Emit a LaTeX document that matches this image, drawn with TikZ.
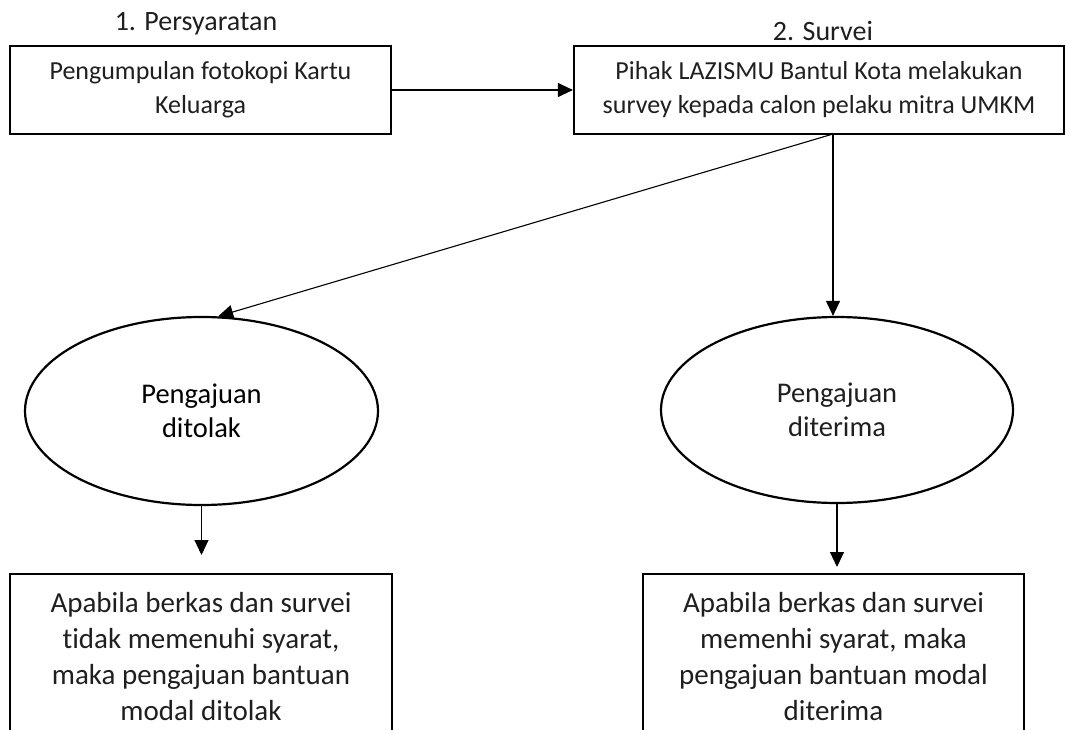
\documentclass[tikz,border=0pt]{standalone}
\usepackage{fontspec}
\setmainfont{Carlito}[Ligatures=NoCommon]
\usetikzlibrary{shapes.geometric,arrows.meta,positioning}

\begin{document}
\begin{tikzpicture}[x=1pt,y=-1pt,
  kotak/.style={draw,line width=2.2pt,align=center,inner sep=0pt,text=black!88},
  elips/.style={draw,ellipse,line width=2.2pt,align=center,inner sep=0pt,text=black!88},
  panah/.style={-{Triangle[length=15pt,width=14pt]},line width=1.1pt}]
\path[use as bounding box,clip] (0,0) rectangle (1066,730);

% Judul tahap
\node[font=\fontsize{28}{33}\selectfont,text=black!88] (lbl1) at (196,24) {1. Persyaratan};
\node[font=\fontsize{28}{33}\selectfont,text=black!88] (lbl2) at (823,31) {2. Survei};

% Kotak atas
\node[kotak,minimum width=381,minimum height=88,font=\fontsize{26}{34}\selectfont] (syarat) at (200.5,90) {Pengumpulan fotokopi Kartu\\Keluarga};
\node[kotak,minimum width=490,minimum height=88,font=\fontsize{26}{34}\selectfont] (survei) at (819,90) {Pihak LAZISMU Bantul Kota melakukan\\survey kepada calon pelaku mitra UMKM};

% Hasil survei
\node[elips,minimum width=353,minimum height=188,font=\fontsize{28.5}{34}\selectfont,text=black] (ditolak) at (201.5,411) {Pengajuan\\ditolak};
\node[elips,minimum width=352,minimum height=186,font=\fontsize{28.5}{34}\selectfont] (diterima) at (837,410) {Pengajuan\\diterima};

% Kotak bawah
\node[kotak,anchor=north,minimum width=382,inner ysep=18pt,font=\fontsize{29}{36}\selectfont] (tolak) at (201,573) {Apabila berkas dan survei\\tidak memenuhi syarat,\\maka pengajuan bantuan\\modal ditolak};
\node[kotak,anchor=north,minimum width=381,inner ysep=18pt,font=\fontsize{29}{36}\selectfont] (terima) at (833.5,573) {Apabila berkas dan survei\\memenhi syarat, maka\\pengajuan bantuan modal\\diterima};

% Panah
\coordinate (pisah) at (833,134);
\draw[panah] (syarat.east) -- (survei.west);
\draw[panah] (pisah) -- (ditolak.80);
\draw[panah] (pisah) -- (pisah |- diterima.north);
\draw[panah,shorten >=18pt] (ditolak.south) -- (ditolak.south |- tolak.north);
\draw[panah,shorten >=6pt] (diterima.south) -- (diterima.south |- terima.north);

\end{tikzpicture}
\end{document}
